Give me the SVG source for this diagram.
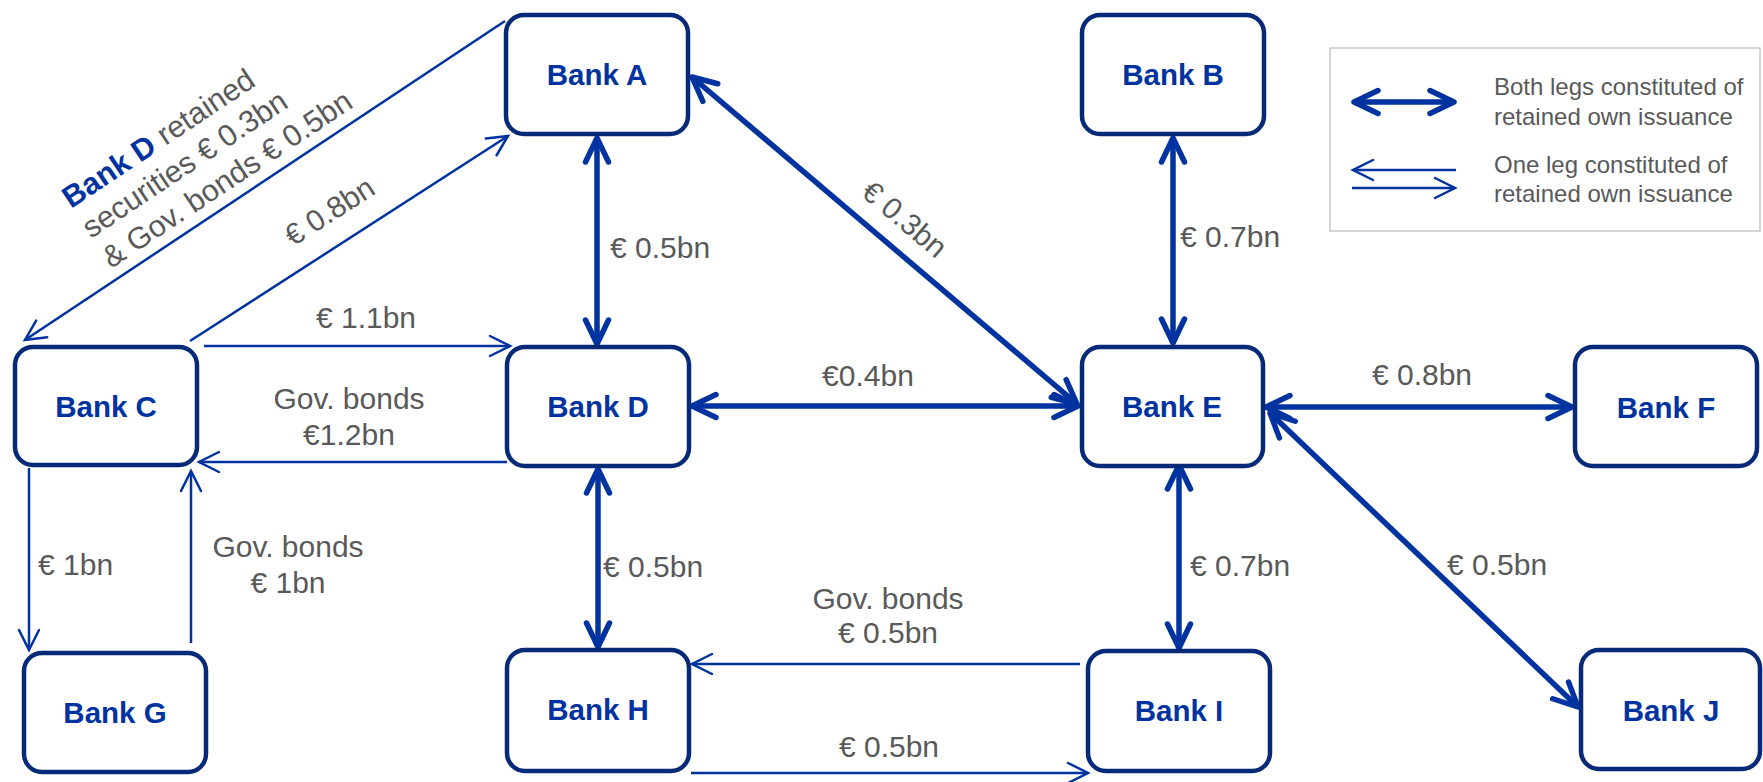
<svg xmlns="http://www.w3.org/2000/svg" width="1763" height="782" viewBox="0 0 1763 782">
<style>
.box{fill:#ffffff;stroke:#062a78;stroke-width:4.5}
.bn{font-family:"Liberation Sans",Arial,sans-serif;font-weight:bold;font-size:29.5px;fill:#0033a0;text-anchor:middle}
.lb{font-family:"Liberation Sans",Arial,sans-serif;font-size:30px;fill:#595959}
.mid{text-anchor:middle}
.lg{font-family:"Liberation Sans",Arial,sans-serif;font-size:24px;fill:#595959}
.thick{fill:none;stroke:#0033a0;stroke-width:5.5;marker-start:url(#ah);marker-end:url(#ah)}
.thin{fill:none;stroke:#0033a0;stroke-width:2.5;marker-end:url(#at)}
</style>
<defs>
<marker id="ah" viewBox="-30 -16 34 32" markerWidth="34" markerHeight="32" refX="0" refY="0" markerUnits="userSpaceOnUse" orient="auto-start-reverse">
<path d="M-24 -11.5 L0 0 L-24 11.5" fill="none" stroke="#0033a0" stroke-width="5.5" stroke-linecap="round" stroke-linejoin="round"/>
</marker>
<marker id="at" viewBox="-26 -14 29 28" markerWidth="29" markerHeight="28" refX="0" refY="0" markerUnits="userSpaceOnUse" orient="auto">
<path d="M-20 -10 L0 0 L-20 10" fill="none" stroke="#0033a0" stroke-width="2.5" stroke-linecap="round" stroke-linejoin="miter"/>
</marker>
</defs>
<rect width="1763" height="782" fill="#ffffff"/>

<g id="legend">
<rect x="1330" y="48" width="430" height="183" fill="#ffffff" stroke="#c8c8c8" stroke-width="1.5"/>
<path class="thick" d="M1354 102 L1454 102"/>
<path class="thin" d="M1456 170 L1353 170"/>
<path class="thin" d="M1352 188 L1455 188"/>
<text class="lg" x="1494" y="95">Both legs constituted of</text>
<text class="lg" x="1494" y="125">retained own issuance</text>
<text class="lg" x="1494" y="173">One leg constituted of</text>
<text class="lg" x="1494" y="202">retained own issuance</text>
</g>

<g id="connectors">
<path class="thick" d="M597 138 L597 344"/>
<path class="thick" d="M692 77 L1077 404"/>
<path class="thick" d="M1173 138 L1173 343"/>
<path class="thick" d="M692 406 L1078 406"/>
<path class="thick" d="M1266 407 L1572 407"/>
<path class="thick" d="M1270 413 L1578 707"/>
<path class="thick" d="M1179 465 L1179 648"/>
<path class="thick" d="M598 469 L598 647"/>
<path class="thin" d="M505 21 L25 340"/>
<path class="thin" d="M190 341 L508 136"/>
<path class="thin" d="M204 346 L510 346"/>
<path class="thin" d="M507 462 L199 462"/>
<path class="thin" d="M29 468 L29 650"/>
<path class="thin" d="M191 643 L191 471"/>
<path class="thin" d="M1080 664 L692 664"/>
<path class="thin" d="M691 773 L1088 773"/>
</g>

<g id="labels">
<text class="lb" transform="translate(71,209) rotate(-33.7)" style="font-size:30.5px"><tspan x="0" y="0"><tspan style="font-weight:bold;fill:#0033a0">Bank D</tspan> retained</tspan><tspan x="0" y="36">securities € 0.3bn</tspan><tspan x="0" y="72">&amp; Gov. bonds € 0.5bn</tspan></text>
<text class="lb mid" transform="translate(335,220) rotate(-32.8)">€ 0.8bn</text>
<text class="lb mid" transform="translate(898,227) rotate(40.3)">€ 0.3bn</text>
<text class="lb" x="610" y="258">€ 0.5bn</text>
<text class="lb mid" x="868" y="386">€0.4bn</text>
<text class="lb" x="1180" y="247">€ 0.7bn</text>
<text class="lb mid" x="1422" y="385">€ 0.8bn</text>
<text class="lb" x="1447" y="575">€ 0.5bn</text>
<text class="lb" x="1190" y="576">€ 0.7bn</text>
<text class="lb" x="603" y="577">€ 0.5bn</text>
<text class="lb mid" x="888" y="609">Gov. bonds</text>
<text class="lb mid" x="888" y="643">€ 0.5bn</text>
<text class="lb mid" x="889" y="757">€ 0.5bn</text>
<text class="lb mid" x="366" y="328">€ 1.1bn</text>
<text class="lb mid" x="349" y="409">Gov. bonds</text>
<text class="lb mid" x="349" y="445">€1.2bn</text>
<text class="lb" x="38" y="575">€ 1bn</text>
<text class="lb mid" x="288" y="557">Gov. bonds</text>
<text class="lb mid" x="288" y="593">€ 1bn</text>
</g>

<g id="bankA"><rect class="box" x="506" y="15" width="182" height="119" rx="18"/><text class="bn" x="597" y="85">Bank A</text></g>
<g id="bankB"><rect class="box" x="1082" y="15" width="182" height="119" rx="18"/><text class="bn" x="1173" y="85">Bank B</text></g>
<g id="bankC"><rect class="box" x="15" y="347" width="182" height="118" rx="18"/><text class="bn" x="106" y="417">Bank C</text></g>
<g id="bankD"><rect class="box" x="507" y="347" width="182" height="119" rx="18"/><text class="bn" x="598" y="417">Bank D</text></g>
<g id="bankE"><rect class="box" x="1082" y="347" width="181" height="119" rx="18"/><text class="bn" x="1172" y="417">Bank E</text></g>
<g id="bankF"><rect class="box" x="1575" y="347" width="182" height="119" rx="18"/><text class="bn" x="1666" y="418">Bank F</text></g>
<g id="bankG"><rect class="box" x="24" y="653" width="182" height="119" rx="18"/><text class="bn" x="115" y="723">Bank G</text></g>
<g id="bankH"><rect class="box" x="507" y="650" width="182" height="121" rx="18"/><text class="bn" x="598" y="720">Bank H</text></g>
<g id="bankI"><rect class="box" x="1088" y="651" width="182" height="120" rx="18"/><text class="bn" x="1179" y="721">Bank I</text></g>
<g id="bankJ"><rect class="box" x="1581" y="650" width="179" height="119" rx="18"/><text class="bn" x="1671" y="721">Bank J</text></g>
</svg>
